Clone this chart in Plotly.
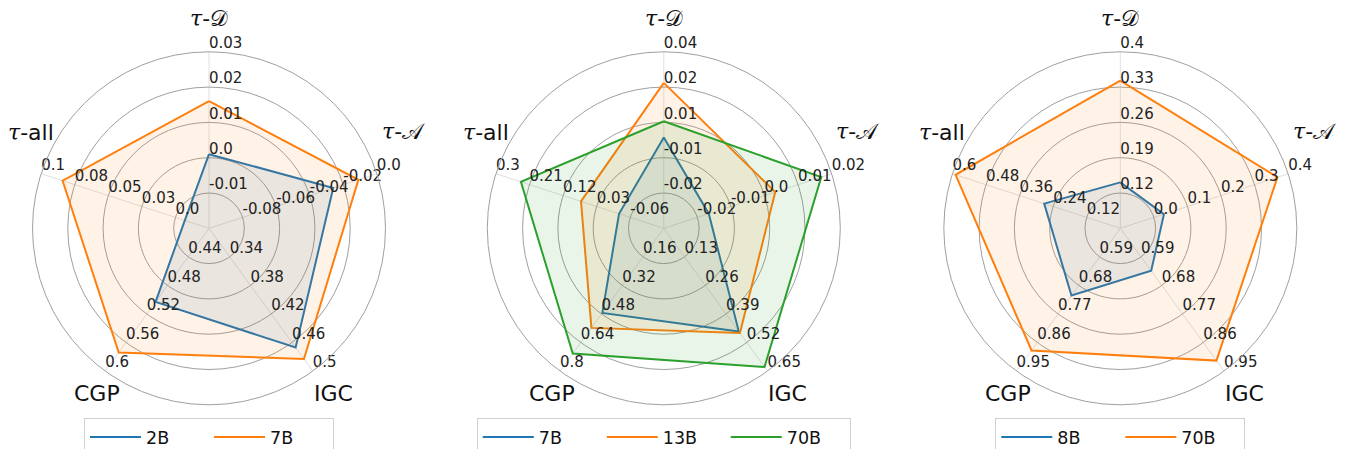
import plotly.graph_objects as go

# ---------------- data ----------------
axes_names = ["τ-𝒟", "τ-𝒜", "IGC", "CGP", "τ-all"]

# panel 1
p1_models = ["2B", "7B"]
p1_lo = [-0.02, -0.10, 0.30, 0.40, -0.025]
p1_hi = [0.03, 0.00, 0.50, 0.60, 0.10]
p1_ticks = [["-0.01", "0.0", "0.01", "0.02", "0.03"],
            ["-0.08", "-0.06", "-0.04", "-0.02", "0.0"],
            ["0.34", "0.38", "0.42", "0.46", "0.5"],
            ["0.44", "0.48", "0.52", "0.56", "0.6"],
            ["0.0", "0.03", "0.05", "0.08", "0.1"]]
p1_2B = [0.001, -0.026, 0.467, 0.503, -0.007]
p1_7B = [0.016, -0.011, 0.483, 0.574, 0.084]

# panel 2
p2_models = ["7B", "13B", "70B"]
p2_lo = [-0.037, -0.03, 0.0, 0.0, -0.15]
p2_hi = [0.038, 0.02, 0.65, 0.80, 0.30]
p2_ticks = [["-0.02", "-0.01", "0.01", "0.02", "0.04"],
            ["-0.02", "-0.01", "0.0", "0.01", "0.02"],
            ["0.13", "0.26", "0.39", "0.52", "0.65"],
            ["0.16", "0.32", "0.48", "0.64", "0.8"],
            ["-0.06", "0.03", "0.12", "0.21", "0.3"]]
p2_7B = [0.0016, -0.0166, 0.470, 0.474, -0.030]
p2_13B = [0.0248, 0.0032, 0.477, 0.558, 0.072]
p2_70B = [0.0085, 0.0169, 0.631, 0.702, 0.233]

# panel 3
p3_models = ["8B", "70B"]
p3_lo = [0.05, -0.10, 0.50, 0.50, 0.0]
p3_hi = [0.40, 0.40, 0.95, 0.95, 0.60]
p3_ticks = [["0.12", "0.19", "0.26", "0.33", "0.4"],
            ["0.0", "0.1", "0.2", "0.3", "0.4"],
            ["0.59", "0.68", "0.77", "0.86", "0.95"],
            ["0.59", "0.68", "0.77", "0.86", "0.95"],
            ["0.12", "0.24", "0.36", "0.48", "0.6"]]
p3_8B = [0.141, 0.030, 0.634, 0.712, 0.272]
p3_70B = [0.343, 0.368, 0.917, 0.885, 0.589]

# ---------------- styling ----------------
W, H = 1346, 449
COLORS = ["#1f77b4", "#ff7f0e", "#2ca02c"]
FILLS = ["rgba(31,119,180,0.10)", "rgba(255,127,14,0.10)", "rgba(44,160,44,0.10)"]
FONT = "DejaVu Sans"
grid_fracs = [0.2, 0.4, 0.6, 0.8, 1.0]
angles = [0, 72, 144, 216, 288]
# category-label offsets from the panel centre (px)
lab_dx = [0, 194, 124, -112, -178]
lab_dy = [-210, -97, 165, 165, -96]

panels = [
    dict(models=p1_models, series=[p1_2B, p1_7B], lo=p1_lo, hi=p1_hi, ticks=p1_ticks, cx=209.0),
    dict(models=p2_models, series=[p2_7B, p2_13B, p2_70B], lo=p2_lo, hi=p2_hi, ticks=p2_ticks, cx=663.8),
    dict(models=p3_models, series=[p3_8B, p3_70B], lo=p3_lo, hi=p3_hi, ticks=p3_ticks, cx=1120.3),
]
CY, R = 228.3, 176.5

fig = go.Figure()
layout = {}
annotations = []

def cat_label(name):
    if name.startswith("τ"):
        return "<span style=\"font-family:'DejaVu Serif'\"><i>τ</i></span>" + name[1:]
    return name

for pi, p in enumerate(panels):
    sid = "polar" if pi == 0 else f"polar{pi+1}"
    lid = "legend" if pi == 0 else f"legend{pi+1}"
    for si, (m, vals) in enumerate(zip(p["models"], p["series"])):
        r = [(v - lo) / (hi - lo) for v, lo, hi in zip(vals, p["lo"], p["hi"])]
        r = r + [r[0]]
        th = angles + [angles[0]]
        fig.add_trace(go.Scatterpolar(r=r, theta=th, mode="lines", fill="toself",
                                      fillcolor=FILLS[si], line=dict(width=0, color=COLORS[si]),
                                      subplot=sid, showlegend=False, hoverinfo="skip"))
        fig.add_trace(go.Scatterpolar(r=r, theta=th, mode="lines", name=m,
                                      line=dict(width=2, color=COLORS[si]),
                                      subplot=sid, legend=lid, showlegend=True))
    for ai in range(5):
        fig.add_trace(go.Scatterpolar(r=grid_fracs, theta=[angles[ai]] * 5, mode="text",
                                      text=p["ticks"][ai], textposition="top right",
                                      textfont=dict(family=FONT, size=15, color="#222"),
                                      subplot=sid, showlegend=False, hoverinfo="skip",
                                      cliponaxis=False))
    for ai, name in enumerate(axes_names):
        annotations.append(dict(text=cat_label(name), xref="paper", yref="paper",
                                x=(p["cx"] + lab_dx[ai]) / W, y=1 - (CY + lab_dy[ai]) / H,
                                xanchor="center", yanchor="middle", showarrow=False,
                                font=dict(family=FONT, size=22, color="#111")))
    x0 = (p["cx"] - R) / W
    x1 = (p["cx"] + R) / W
    y0 = 1 - (CY + R) / H
    y1 = 1 - (CY - R) / H
    layout[sid] = dict(
        domain=dict(x=[x0, x1], y=[y0, y1]),
        bgcolor="white",
        radialaxis=dict(range=[0, 1], tickvals=grid_fracs, showticklabels=False, ticks="",
                        gridcolor="#a0a0a0", gridwidth=1, showline=False),
        angularaxis=dict(rotation=90, direction="clockwise", tickvals=angles,
                         showticklabels=False, ticks="", gridcolor="#e0e0e0", gridwidth=1,
                         showline=True, linecolor="#a0a0a0", linewidth=1),
    )
    layout[lid] = dict(orientation="h", x=p["cx"] / W, xanchor="center", y=1 - 418 / H, yanchor="top",
                       bordercolor="#d0d0d0", borderwidth=1, bgcolor="white",
                       font=dict(family=FONT, size=17.5, color="#111"),
                       itemwidth=51, entrywidth=58)

fig.update_layout(width=W, height=H, margin=dict(l=0, r=0, t=0, b=0, autoexpand=False),
                  paper_bgcolor="white", plot_bgcolor="white", annotations=annotations, **layout)
fig.write_html("out.html", config={"displayModeBar": False},
               post_script="document.body.style.margin='0';document.body.style.overflow='hidden';")
